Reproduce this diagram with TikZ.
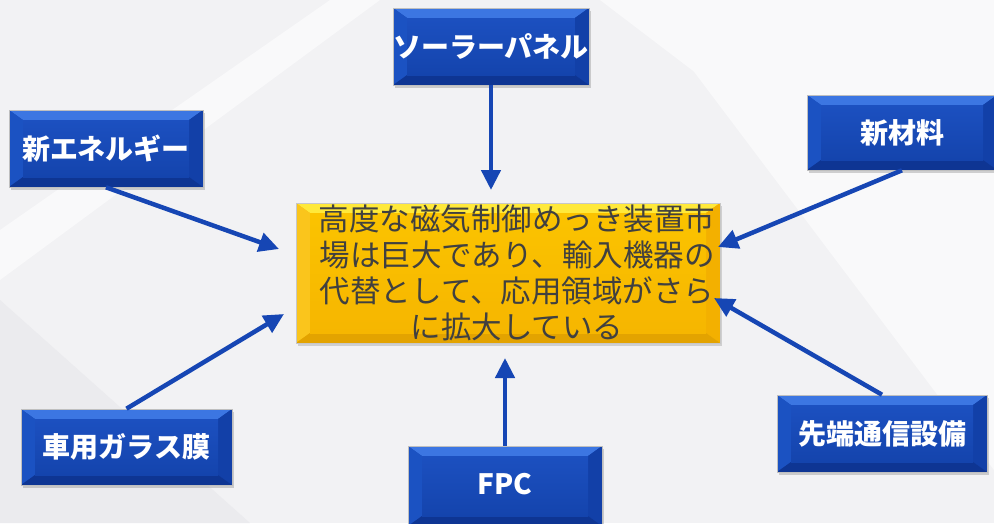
\documentclass[tikz,border=0pt]{standalone}
\usepackage{fontspec}
\setmainfont{Noto Sans CJK JP}
\usetikzlibrary{arrows.meta,shadows}
\definecolor{bgbase}{HTML}{F2F2F4}
\definecolor{bglight}{HTML}{F9F9FA}
\definecolor{bgdark}{HTML}{EBEBEE}
\definecolor{bluemain}{HTML}{1546B2}
\definecolor{bluetop}{HTML}{3C76E2}
\definecolor{blueleft}{HTML}{1B52C2}
\definecolor{blueright}{HTML}{1240A8}
\definecolor{bluebot}{HTML}{0E3593}
\definecolor{blueinA}{HTML}{1C50C0}
\definecolor{blueinB}{HTML}{1444AD}
\definecolor{goldmain}{HTML}{F7B800}
\definecolor{goldtop}{HTML}{FFE93A}
\definecolor{goldleft}{HTML}{FAC51C}
\definecolor{goldright}{HTML}{F3B000}
\definecolor{goldbot}{HTML}{E3A300}
\definecolor{goldinA}{HTML}{FBC300}
\definecolor{goldinB}{HTML}{F6B600}
\definecolor{arrowblue}{HTML}{1646B4}
\definecolor{centertext}{HTML}{404040}
\tikzset{
  bevel/.style n args={6}{%
    path picture={
      \fill[#1] (path picture bounding box.north west) -- (path picture bounding box.north east)
        -- ([xshift=-14pt,yshift=-10pt]path picture bounding box.north east)
        -- ([xshift=14pt,yshift=-10pt]path picture bounding box.north west) -- cycle;
      \fill[#2] (path picture bounding box.north west) -- ([xshift=14pt,yshift=-10pt]path picture bounding box.north west)
        -- ([xshift=14pt,yshift=10pt]path picture bounding box.south west) -- (path picture bounding box.south west) -- cycle;
      \fill[#3] (path picture bounding box.north east) -- ([xshift=-14pt,yshift=-10pt]path picture bounding box.north east)
        -- ([xshift=-14pt,yshift=10pt]path picture bounding box.south east) -- (path picture bounding box.south east) -- cycle;
      \fill[#4] (path picture bounding box.south west) -- ([xshift=14pt,yshift=10pt]path picture bounding box.south west)
        -- ([xshift=-14pt,yshift=10pt]path picture bounding box.south east) -- (path picture bounding box.south east) -- cycle;
      \shade[top color=#5,bottom color=#6] ([xshift=14pt,yshift=-10pt]path picture bounding box.north west)
        rectangle ([xshift=-14pt,yshift=10pt]path picture bounding box.south east);
    }},
  bluebox/.style={draw=black!25, line width=0.6pt, fill=bluemain, text=white,
    font=\fontsize{28}{30}\selectfont\bfseries, inner sep=0pt,
    drop shadow={opacity=0.35, shadow xshift=2pt, shadow yshift=-3pt},
    bevel={bluetop}{blueleft}{blueright}{bluebot}{blueinA}{blueinB}},
  goldbox/.style={draw=black!22, line width=0.8pt, fill=goldmain, text=centertext,
    font=\fontsize{30.5}{36}\selectfont, align=center, inner sep=0pt,
    drop shadow={opacity=0.3, shadow xshift=2pt, shadow yshift=-3pt},
    bevel={goldtop}{goldleft}{goldright}{goldbot}{goldinA}{goldinB}},
  arr/.style={draw=arrowblue, line width=4.5pt, -{Triangle[length=20pt,width=19pt]}, arrowblue}
}
\begin{document}
\begin{tikzpicture}[x=1pt,y=-1pt]
\useasboundingbox (0,0) rectangle (994,523);
% background
\fill[bgbase] (0,0) rectangle (994,523);
\fill[bglight] (330,0) -- (994,0) -- (994,470) -- (640,0) -- cycle;
\fill[bglight] (600,0) -- (994,0) -- (994,300) -- cycle;
\fill[bgdark] (0,300) -- (250,523) -- (0,523) -- cycle;
\fill[bglight] (0,230) -- (330,0) -- (380,0) -- (0,280) -- cycle;

% center box
\node[goldbox, minimum width=424pt, minimum height=140pt] (center) at (508,273)
  {\raisebox{-3pt}{\hspace*{18pt}高度な磁気制御めっき装置市}\\\raisebox{-3pt}{\hspace*{18pt}場は巨大であり、輸入機器の}\\\raisebox{-3pt}{\hspace*{18pt}代替として、応用領域がさら}\\\raisebox{-3pt}{\hspace*{18pt}に拡大している}};

% outer boxes
\node[bluebox, minimum width=192pt, minimum height=77pt] (solar) at (491,46.5) {ソーラーパネル};
\node[bluebox, minimum width=194pt, minimum height=77pt] (newe) at (106,148.5) {新エネルギー};
\node[bluebox, minimum width=190pt, minimum height=75pt] (newm) at (902,132.5) {新材料};
\node[bluebox, minimum width=211pt, minimum height=76pt] (car) at (126.5,447) {車用ガラス膜};
\node[bluebox, minimum width=194pt, minimum height=80pt] (fpc) at (505,486) {\raisebox{5pt}{FPC}};
\node[bluebox, minimum width=210pt, minimum height=77pt] (comm) at (882,433.5) {先端通信設備};

% arrow tips
\coordinate (t1) at (491,190);
\coordinate (t2) at (279,249);
\coordinate (t3) at (718,247);
\coordinate (t4) at (284,314);
\coordinate (t5) at (505,358);
\coordinate (t6) at (714,298);

\draw[arr] (solar.south) -- (t1);
\draw[arr] (newe.south) -- (t2);
\draw[arr] (newm.south) -- (t3);
\draw[arr] (car.north) -- (t4);
\draw[arr] (fpc.north) -- (t5);
\draw[arr] (comm.north) -- (t6);
\end{tikzpicture}
\end{document}
